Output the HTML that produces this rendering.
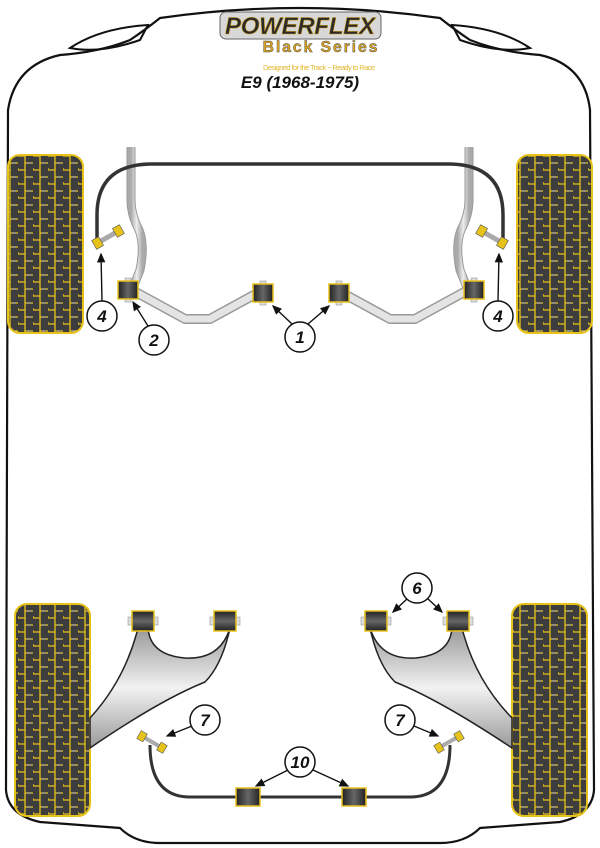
<!DOCTYPE html>
<html><head><meta charset="utf-8"><style>
html,body{margin:0;padding:0;background:#fff;width:600px;height:848px;overflow:hidden}
svg{display:block}
text{font-family:"Liberation Sans",sans-serif}
</style></head><body>
<svg width="600" height="848" viewBox="0 0 600 848" xmlns="http://www.w3.org/2000/svg">
<defs>
<pattern id="tread" width="15" height="14" patternUnits="userSpaceOnUse" patternTransform="translate(3,0)">
<rect width="15" height="14" fill="#3d3d3d"/>
<path d="M0 2 H7 V9 H15 M7 9 V14 M0 2 V0 M7 0 V2" stroke="#e6c21a" stroke-width="1.3" fill="none"/>
<path d="M9 9 H13" stroke="#bbb" stroke-width="1"/>
</pattern>
<linearGradient id="bar" x1="0" x2="1" y1="0" y2="0"><stop offset="0" stop-color="#aaa"/><stop offset=".5" stop-color="#eee"/><stop offset="1" stop-color="#aaa"/></linearGradient>
<linearGradient id="arm" x1="0" x2="0" y1="0" y2="1"><stop offset="0" stop-color="#999"/><stop offset=".5" stop-color="#f2f2f2"/><stop offset="1" stop-color="#999"/></linearGradient>
<linearGradient id="bush" x1="0" x2="1"><stop offset="0" stop-color="#222"/><stop offset=".5" stop-color="#666"/><stop offset="1" stop-color="#222"/></linearGradient>
<g id="bv"><rect x="-3" y="-12" width="6" height="24" fill="#ddd" stroke="#999" stroke-width=".6"/><rect x="-10" y="-9" width="20" height="18" fill="url(#bush)" stroke="#e6c21a" stroke-width="1.5"/></g>
<g id="bh"><rect x="-15" y="-4" width="30" height="8" fill="#ddd" stroke="#999" stroke-width=".6"/><rect x="-10" y="-11" width="20" height="22" fill="url(#bush)" stroke="#e6c21a" stroke-width="1.5" transform="rotate(90)"/></g>
<marker id="ah" markerWidth="8" markerHeight="8" refX="6" refY="3" orient="auto"><path d="M0 0 L7 3 L0 6 Z" fill="#111"/></marker>
</defs>

<path d="M160 18 Q300 -2 440 18 Q455 30 470 40 Q500 52 540 55 Q585 65 590 110 L594 790 Q592 815 560 822 L480 828 Q465 843 440 843 L160 843 Q135 843 120 828 L40 822 Q8 815 6 790 L8 110 Q15 65 60 55 Q100 52 130 40 Q145 30 160 18 Z" fill="none" stroke="#111" stroke-width="2.2"/>
<path d="M148 25 Q100 28 70 48 Q100 54 140 40 Z" fill="none" stroke="#111" stroke-width="2"/>
<path d="M452 25 Q500 28 530 48 Q500 54 460 40 Z" fill="none" stroke="#111" stroke-width="2"/>

<rect x="220" y="12" width="161" height="27" rx="6" fill="#d8d8d8" stroke="#666" stroke-width="1"/>
<text x="300" y="34" text-anchor="middle" font-size="24" font-weight="bold" font-style="italic" fill="#2a2a2a" textLength="150" stroke="#c99a1a" stroke-width=".6">POWERFLEX</text>
<text x="320" y="52" text-anchor="middle" font-size="16" font-weight="bold" fill="#d9a320" stroke="#444" stroke-width=".4" textLength="115">Black Series</text>
<text x="319" y="70" text-anchor="middle" font-size="7.5" fill="#e2b830" textLength="112">Designed for the Track ~ Ready to Race</text>
<text x="300" y="88" text-anchor="middle" font-size="17" font-weight="bold" font-style="italic" fill="#111">E9 (1968-1975)</text>

<rect x="8" y="155" width="75" height="178" rx="12" fill="url(#tread)" stroke="#e6c21a" stroke-width="2"/>
<rect x="517" y="155" width="75" height="178" rx="12" fill="url(#tread)" stroke="#e6c21a" stroke-width="2"/>
<rect x="15" y="604" width="75" height="212" rx="12" fill="url(#tread)" stroke="#e6c21a" stroke-width="2"/>
<rect x="512" y="604" width="75" height="212" rx="12" fill="url(#tread)" stroke="#e6c21a" stroke-width="2"/>

<path d="M131 147 V200 Q131 215 139 230 Q145 245 140 270 L132 290" fill="none" stroke="#999" stroke-width="9" stroke-linejoin="round"/>
<path d="M131 147 V200 Q131 215 139 230 Q145 245 140 270 L132 290" fill="none" stroke="url(#bar)" stroke-width="7" stroke-linejoin="round"/>
<path d="M469 147 V200 Q469 215 461 230 Q455 245 460 270 L468 290" fill="none" stroke="#999" stroke-width="9" stroke-linejoin="round"/>
<path d="M469 147 V200 Q469 215 461 230 Q455 245 460 270 L468 290" fill="none" stroke="url(#bar)" stroke-width="7" stroke-linejoin="round"/>
<path d="M132 290 L185 319 L210 319 L263 290 M337 290 L390 319 L415 319 L468 290" fill="none" stroke="#999" stroke-width="10" stroke-linejoin="round"/>
<path d="M132 290 L185 319 L210 319 L263 290 M337 290 L390 319 L415 319 L468 290" fill="none" stroke="#e4e4e4" stroke-width="7" stroke-linejoin="round"/>

<path d="M97 245 V215 Q97 165 150 164 L450 164 Q503 165 503 215 V245" fill="none" stroke="#333" stroke-width="3.5"/>
<g transform="translate(108,237) rotate(-30)"><rect x="-12" y="-2.5" width="24" height="5" fill="#aaa"/><rect x="-16" y="-5" width="8" height="10" fill="#e6c21a" stroke="#555" stroke-width=".6"/><rect x="8" y="-5" width="8" height="10" fill="#e6c21a" stroke="#555" stroke-width=".6"/></g>
<g transform="translate(492,237) rotate(30)"><rect x="-12" y="-2.5" width="24" height="5" fill="#aaa"/><rect x="-16" y="-5" width="8" height="10" fill="#e6c21a" stroke="#555" stroke-width=".6"/><rect x="8" y="-5" width="8" height="10" fill="#e6c21a" stroke="#555" stroke-width=".6"/></g>
<use href="#bv" x="128" y="290"/>
<use href="#bv" x="263" y="293"/>
<use href="#bv" x="339" y="293"/>
<use href="#bv" x="474" y="290"/>

<path d="M138 628 Q125 680 90 718 L90 748 Q160 700 205 682 Q222 665 230 628 Q220 660 185 658 Q150 655 148 628 Z" fill="url(#arm)" stroke="#222" stroke-width="1.5"/>
<path d="M462 628 Q475 680 512 718 L512 748 Q440 700 395 682 Q378 665 370 628 Q380 660 415 658 Q450 655 452 628 Z" fill="url(#arm)" stroke="#222" stroke-width="1.5"/>
<use href="#bh" x="143" y="621"/>
<use href="#bh" x="225" y="621"/>
<use href="#bh" x="376" y="621"/>
<use href="#bh" x="458" y="621"/>

<path d="M150 745 Q150 797 190 797 L410 797 Q450 797 450 745" fill="none" stroke="#333" stroke-width="3"/>
<g transform="translate(152,742) rotate(30)"><rect x="-12" y="-2" width="24" height="4" fill="#aaa"/><rect x="-15" y="-4.5" width="7" height="9" fill="#e6c21a" stroke="#555" stroke-width=".6"/><rect x="8" y="-4.5" width="7" height="9" fill="#e6c21a" stroke="#555" stroke-width=".6"/></g>
<g transform="translate(449,742) rotate(-30)"><rect x="-12" y="-2" width="24" height="4" fill="#aaa"/><rect x="-15" y="-4.5" width="7" height="9" fill="#e6c21a" stroke="#555" stroke-width=".6"/><rect x="8" y="-4.5" width="7" height="9" fill="#e6c21a" stroke="#555" stroke-width=".6"/></g>
<rect x="236" y="788" width="24" height="18" fill="url(#bush)" stroke="#e6c21a" stroke-width="1.5"/>
<rect x="342" y="788" width="24" height="18" fill="url(#bush)" stroke="#e6c21a" stroke-width="1.5"/>

<g stroke="#111" stroke-width="1.4" fill="none" marker-end="url(#ah)">
<line x1="102" y1="301" x2="101" y2="254"/>
<line x1="498" y1="301" x2="499" y2="254"/>
<line x1="148" y1="326" x2="133" y2="302"/>
<line x1="292" y1="324" x2="273" y2="306"/>
<line x1="308" y1="324" x2="329" y2="306"/>
<line x1="408" y1="598" x2="393" y2="612"/>
<line x1="427" y1="598" x2="442" y2="612"/>
<line x1="192" y1="726" x2="167" y2="736"/>
<line x1="414" y1="726" x2="438" y2="736"/>
<line x1="288" y1="770" x2="256" y2="786"/>
<line x1="313" y1="770" x2="348" y2="786"/>
</g>
<g fill="#fff" stroke="#111" stroke-width="1.5">
<circle cx="102" cy="316" r="15"/><circle cx="498" cy="316" r="15"/>
<circle cx="154" cy="340" r="15"/><circle cx="300" cy="337" r="15"/>
<circle cx="417" cy="588" r="15"/><circle cx="205" cy="720" r="15"/>
<circle cx="400" cy="720" r="15"/><circle cx="300" cy="762" r="15"/>
</g>
<g font-size="17" font-weight="bold" font-style="italic" text-anchor="middle" fill="#111">
<text x="102" y="322">4</text><text x="498" y="322">4</text>
<text x="154" y="346">2</text><text x="300" y="343">1</text>
<text x="417" y="594">6</text><text x="205" y="726">7</text>
<text x="400" y="726">7</text><text x="300" y="768">10</text>
</g>
</svg>
</body></html>
